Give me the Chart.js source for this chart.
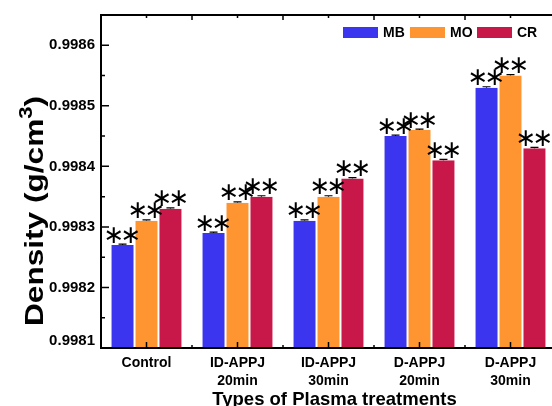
<!DOCTYPE html>
<html>
<head>
<meta charset="utf-8">
<script src="https://cdn.jsdelivr.net/npm/chart.js@4.4.0/dist/chart.umd.min.js"></script>
<style>
  html, body { margin: 0; padding: 0; background: #fff; overflow: hidden; }
  #wrap { position: relative; width: 560px; height: 406px; }
</style>
</head>
<body>
<div id="wrap"><canvas id="densityChart"></canvas></div>
<script>
// --- Data ---
const categories = [['Control'], ['ID-APPJ', '20min'], ['ID-APPJ', '30min'], ['D-APPJ', '20min'], ['D-APPJ', '30min']];
const mbValues = [0.99827, 0.99829, 0.99831, 0.99845, 0.99853];
const moValues = [0.99831, 0.99834, 0.99835, 0.99846, 0.99855];
const crValues = [0.99833, 0.99835, 0.99838, 0.99841, 0.99843];
const mbErr = [0.0000015, 0.0000015, 0.0000015, 0.0000015, 0.0000015];
const moErr = [0.0000015, 0.0000015, 0.0000015, 0.0000015, 0.0000015];
const crErr = [0.0000015, 0.0000015, 0.0000015, 0.0000015, 0.0000015];
const yTicks = [0.9981, 0.9982, 0.9983, 0.9984, 0.9985, 0.9986];
const markLabel = '\u2217';

const family = '"Liberation Sans", Arial, sans-serif';
const errors = [mbErr, moErr, crErr];

// --- Extra drawing: error caps, asterisks, frame ticks, legend, titles ---
const decorations = {
  id: 'decorations',
  afterDatasetsDraw(chart) {
    const ctx = chart.ctx;
    const y = chart.scales.y;
    ctx.save();
    chart.data.datasets.forEach((ds, di) => {
      chart.getDatasetMeta(di).data.forEach((bar, i) => {
        const top = y.getPixelForValue(ds.data[i] + errors[di][i]);
        ctx.strokeStyle = '#000';
        ctx.lineWidth = 1.2;
        ctx.beginPath();
        ctx.moveTo(bar.x, bar.y);
        ctx.lineTo(bar.x, top);
        ctx.moveTo(bar.x - 4, top);
        ctx.lineTo(bar.x + 4, top);
        ctx.stroke();

        // two significance marks above each bar
        ctx.fillStyle = '#000';
        ctx.font = '25px "DejaVu Sans"';
        ctx.textAlign = 'center';
        ctx.textBaseline = 'middle';
        ctx.fillText(markLabel, bar.x - 8.5, top - 8);
        ctx.fillText(markLabel, bar.x + 8.5, top - 8);
      });
    });
    ctx.restore();
  },
  afterDraw(chart) {
    const ctx = chart.ctx;
    const { left, right, top, bottom } = chart.chartArea;
    const x = chart.scales.x;
    const y = chart.scales.y;
    ctx.save();

    // frame
    ctx.strokeStyle = '#000';
    ctx.lineWidth = 2;
    ctx.strokeRect(left, top, right - left, bottom - top);

    // left axis ticks (inward)
    ctx.lineWidth = 1.5;
    ctx.beginPath();
    yTicks.forEach((v, i) => {
      const py = y.getPixelForValue(v);
      ctx.moveTo(left, py); ctx.lineTo(left + 8, py);
      if (i < yTicks.length - 1) {
        const pm = y.getPixelForValue((v + yTicks[i + 1]) / 2);
        ctx.moveTo(left, pm); ctx.lineTo(left + 4, pm);
      }
    });
    // bottom / top axis ticks
    const half = (x.getPixelForValue(1) - x.getPixelForValue(0)) / 2;
    categories.forEach((c, i) => {
      const px = x.getPixelForValue(i);
      ctx.moveTo(px, bottom); ctx.lineTo(px, bottom - 6);
      ctx.moveTo(px, top); ctx.lineTo(px, top + 3);
      if (i > 0) {
        const pb = px - half;
        ctx.moveTo(pb, bottom); ctx.lineTo(pb, bottom - 3);
        ctx.moveTo(pb, top); ctx.lineTo(pb, top + 5);
      }
    });
    ctx.stroke();

    // legend inside plot
    ctx.font = 'bold 14px ' + family;
    ctx.textAlign = 'left';
    ctx.textBaseline = 'middle';
    let lx = 343;
    chart.data.datasets.forEach(ds => {
      ctx.fillStyle = ds.backgroundColor;
      ctx.fillRect(lx, 27, 35, 11);
      ctx.fillStyle = '#000';
      ctx.fillText(ds.label, lx + 40, 33);
      lx += 67;
    });

    // x title
    ctx.font = 'bold 18.5px ' + family;
    ctx.textAlign = 'center';
    ctx.textBaseline = 'alphabetic';
    ctx.fillText('Types of Plasma treatments', (left + right) / 2 + 6, 405);

    // y title with superscript
    ctx.translate(43, 211);
    ctx.rotate(-Math.PI / 2);
    const bigFont = 'bold 26px ' + family;
    const supFont = 'bold 18px ' + family;
    ctx.font = bigFont;
    const w1 = ctx.measureText('Density (g/cm').width;
    const w3 = ctx.measureText(')').width;
    ctx.font = supFont;
    const w2 = ctx.measureText('3').width;
    const total = w1 + w2 + w3;
    ctx.scale(230 / total, 1);
    let tx = -total / 2;
    ctx.textAlign = 'left';
    ctx.font = bigFont;
    ctx.fillText('Density (g/cm', tx, 0);
    tx += w1;
    ctx.font = supFont;
    ctx.fillText('3', tx, -11);
    tx += w2;
    ctx.font = bigFont;
    ctx.fillText(')', tx, 0);

    ctx.restore();
  }
};

new Chart(document.getElementById('densityChart'), {
  type: 'bar',
  data: {
    labels: categories,
    datasets: [
      { label: 'MB', data: mbValues, backgroundColor: '#3b35f0' },
      { label: 'MO', data: moValues, backgroundColor: '#fe9530' },
      { label: 'CR', data: crValues, backgroundColor: '#c8184a' }
    ]
  },
  options: {
    responsive: true,
    maintainAspectRatio: false,
    animation: false,
    layout: { padding: { top: 15, right: 4, left: 0, bottom: 0 } },
    datasets: {
      bar: {
        categoryPercentage: 0.79,
        barPercentage: 1,
        borderWidth: { left: 1, right: 1, top: 0, bottom: 0 },
        borderColor: 'rgba(255,255,255,0.75)',
        borderSkipped: 'start'
      }
    },
    plugins: { legend: { display: false }, tooltip: { enabled: false } },
    scales: {
      x: {
        grid: { display: false, drawTicks: false },
        border: { display: false },
        ticks: {
          color: '#000', padding: 6, maxRotation: 0, autoSkip: false,
          font: { family: family, size: 14, weight: 'bold', lineHeight: 1.286 }
        },
        afterFit: s => { s.height = 58; }
      },
      y: {
        min: 0.9981,
        max: 0.99865,
        grid: { display: false, drawTicks: false },
        border: { display: false },
        afterBuildTicks: s => { s.ticks = yTicks.map(v => ({ value: v })); },
        ticks: {
          color: '#000', padding: 6,
          font: { family: family, size: 15, weight: 'bold', lineHeight: 0.95 },
          callback: v => (v === yTicks[0] ? [v.toFixed(4), ''] : v.toFixed(4))
        },
        afterFit: s => { s.width = 101; }
      }
    }
  },
  plugins: [decorations]
});
</script>
</body>
</html>
